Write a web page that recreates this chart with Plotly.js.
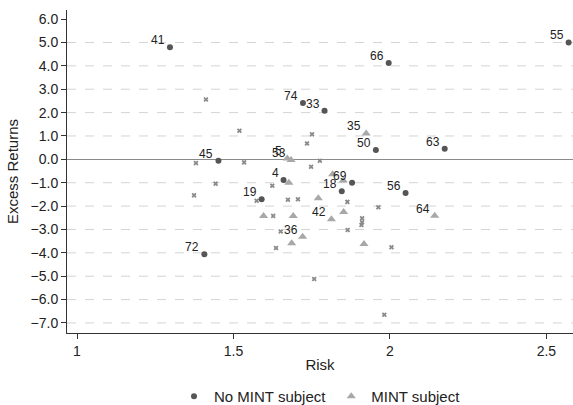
<!DOCTYPE html>
<html>
<head>
<meta charset="utf-8">
<script src="https://cdn.plot.ly/plotly-3.0.1.min.js"></script>
<style>html,body{margin:0;padding:0;background:#fff;overflow:hidden;}#chart{width:573px;height:420px;}</style>
</head>
<body>
<div id="chart"></div>
<script>
// No MINT subject (circles)
const noMintRisk   = [1.297, 2.571, 1.996, 1.722, 1.791, 2.175, 1.955, 1.452, 1.660, 1.879, 1.846, 2.050, 1.590, 1.407];
const noMintReturn = [4.80, 5.00, 4.12, 2.41, 2.08, 0.45, 0.40, -0.06, -0.88, -1.00, -1.37, -1.44, -1.71, -4.06];
const noMintLabel  = ["41", "55", "66", "74", "33", "63", "50", "45", "4", "69", "18", "56", "19", "72"];

// MINT subject (triangles)
const mintRisk   = [1.924, 1.672, 1.684, 1.677, 1.817, 1.851, 1.771, 1.852, 1.813, 1.596, 1.691, 1.721, 1.686, 1.917, 2.143];
const mintReturn = [1.11, 0.04, -0.03, -1.00, -0.64, -0.90, -1.66, -2.25, -2.56, -2.42, -2.42, -3.31, -3.59, -3.62, -2.41];
const mintLabel  = ["35", "5", "53", "", "", "", "", "", "42", "", "", "36", "", "", "64"];

// Other (unlabelled) observations
const otherRisk   = [1.412, 1.519, 1.751, 1.735, 1.380, 1.534, 1.776, 1.748, 1.443, 1.624, 1.374, 1.574, 1.674, 1.706, 1.864, 1.963, 1.627, 1.911, 1.911, 1.909, 1.651, 1.865, 1.636, 2.005, 1.758, 1.982];
const otherReturn = [2.56, 1.22, 1.07, 0.68, -0.16, -0.13, -0.06, -0.32, -1.04, -1.13, -1.54, -1.77, -1.73, -1.71, -1.82, -2.05, -2.42, -2.52, -2.69, -2.81, -3.09, -3.02, -3.79, -3.76, -5.12, -6.65];

const yTicks = [-7, -6, -5, -4, -3, -2, -1, 0, 1, 2, 3, 4, 5, 6];
const yTickText = ["\u22127.0", "\u22126.0", "\u22125.0", "\u22124.0", "\u22123.0", "\u22122.0", "\u22121.0", "0.0", "1.0", "2.0", "3.0", "4.0", "5.0", "6.0"];
const xTicks = [1, 1.5, 2, 2.5];
const gridLevels = [-7, -6, -5, -4, -3, -2, -1, 1, 2, 3, 4, 5];

const FONT = "Liberation Sans, Arial, sans-serif";

const traces = [
  {
    x: otherRisk, y: otherReturn, type: "scatter", mode: "markers",
    marker: {symbol: "x", size: 4.5, color: "#8a8a8a"},
    showlegend: false, hoverinfo: "skip"
  },
  {
    x: mintRisk, y: mintReturn, type: "scatter", mode: "markers",
    name: "MINT subject",
    marker: {symbol: "triangle-up", size: 8, color: "#a8a8a8"}
  },
  {
    x: noMintRisk, y: noMintReturn, type: "scatter", mode: "markers",
    name: "No MINT subject",
    marker: {symbol: "circle", size: 6, color: "#555555"}
  }
];

function labelAnnotations(xs, ys, labels) {
  const out = [];
  labels.forEach((t, i) => {
    if (!t) return;
    out.push({
      x: xs[i], y: ys[i], xref: "x", yref: "y", text: t, showarrow: false,
      xanchor: "right", yanchor: "middle", xshift: -4, yshift: 7, borderpad: 0,
      font: {family: FONT, size: 12, color: "#222"}
    });
  });
  return out;
}

const annotations = labelAnnotations(noMintRisk, noMintReturn, noMintLabel)
  .concat(labelAnnotations(mintRisk, mintReturn, mintLabel));

const shapes = gridLevels.map(v => ({
  type: "line", xref: "paper", x0: 0, x1: 1, yref: "y", y0: v, y1: v,
  line: {color: "#d4d4d4", width: 1, dash: "dash"}, layer: "below"
}));

const layout = {
  width: 573, height: 420,
  margin: {l: 67, r: 0, t: 10, b: 87},
  paper_bgcolor: "#fff", plot_bgcolor: "#fff",
  font: {family: FONT, size: 14, color: "#222"},
  showlegend: true,
  legend: {
    orientation: "h", x: 0.5, xanchor: "center", y: -0.2477, yanchor: "bottom",
    font: {family: FONT, size: 15, color: "#222"},
    traceorder: "reversed", itemwidth: 30, tracegroupgap: 0
  },
  xaxis: {
    range: [0.968, 2.585],
    tickvals: xTicks,
    ticks: "outside", ticklen: 5, tickcolor: "#333",
    showline: true, linecolor: "#333", linewidth: 1,
    showgrid: false, zeroline: false,
    tickfont: {family: FONT, size: 14, color: "#222"},
    title: {text: "Risk", font: {family: FONT, size: 15, color: "#222"}, standoff: 1}
  },
  yaxis: {
    range: [-7.43, 6.39],
    tickvals: yTicks, ticktext: yTickText,
    ticks: "outside", ticklen: 5, tickcolor: "#333",
    showline: true, linecolor: "#333", linewidth: 1,
    showgrid: false,
    zeroline: true, zerolinecolor: "#8a8a8a", zerolinewidth: 1.3,
    tickfont: {family: FONT, size: 14, color: "#222"},
    title: {text: "Excess Returns", font: {family: FONT, size: 15, color: "#222"}, standoff: 8}
  },
  shapes: shapes,
  annotations: annotations
};

Plotly.newPlot("chart", traces, layout, {staticPlot: true, displayModeBar: false});
</script>
</body>
</html>
